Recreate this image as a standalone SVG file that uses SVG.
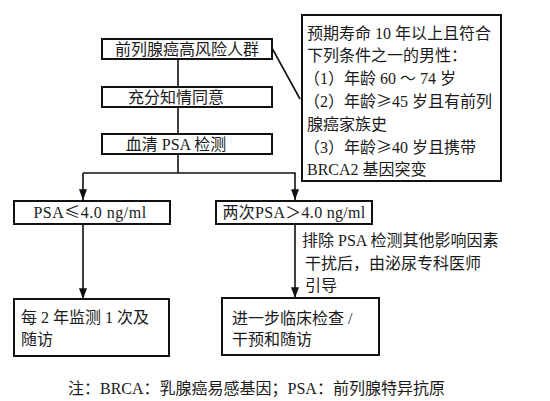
<svg xmlns="http://www.w3.org/2000/svg" width="550" height="401" viewBox="0 0 550 401">
<style>
text{font-family:"Liberation Serif","Noto Sans CJK SC",serif;font-size:16px;fill:#1a1a1a}
.k{font-family:"Noto Sans CJK SC",sans-serif}
.b{fill:#fff;stroke:#111;stroke-width:2}
.c{fill:none;stroke:#111;stroke-width:1.6}
.m{text-anchor:middle}
</style>
<defs>
<marker id="ah" viewBox="0 0 12 10" refX="12" refY="5" markerWidth="13" markerHeight="9" markerUnits="userSpaceOnUse" orient="auto">
<path d="M0,0.5 L12,5 L0,9.5 z" fill="#111"/>
</marker>
</defs>
<g id="connectors">
<line class="c" x1="178" y1="59" x2="178" y2="87"/>
<line class="c" x1="178" y1="107" x2="178" y2="133"/>
<line class="c" x1="178" y1="154" x2="178" y2="173"/>
<polyline class="c" points="83,173 295,173 295,200" marker-end="url(#ah)"/>
<line class="c" x1="83" y1="173" x2="83" y2="200" marker-end="url(#ah)"/>
<line class="c" x1="83" y1="225" x2="83" y2="299" marker-end="url(#ah)"/>
<line class="c" x1="295" y1="225" x2="295" y2="298" marker-end="url(#ah)"/>
<line class="c" x1="272" y1="48" x2="300" y2="99"/>
</g>
<g id="n1"><rect class="b" x="102" y="39" width="170" height="20"/><text class="m" x="187" y="55">前列腺癌高风险人群</text></g>
<g id="n2"><rect class="b" x="102" y="87" width="170" height="20"/><text class="m" x="176" y="103">充分知情同意</text></g>
<g id="n3"><rect class="b" x="102" y="134" width="170" height="20"/><text class="m" x="176" y="150">血清 PSA 检测</text></g>
<g id="note"><rect class="b" x="302" y="15" width="199" height="166"/>
<text x="307" y="39">预期寿命 10 年以上且符合</text>
<text x="307" y="61">下列条件之一的男性：</text>
<text x="304" y="84">（1）年龄 60 ～ 74 岁</text>
<text x="304" y="107">（2）年龄<tspan class="k">≥</tspan>45 岁且有前列</text>
<text x="307" y="130">腺癌家族史</text>
<text x="304" y="153">（3）年龄<tspan class="k">≥</tspan>40 岁且携带</text>
<text x="307" y="175">BRCA2 基因突变</text>
</g>
<g id="n4"><rect class="b" x="14" y="201" width="156" height="23"/><text class="m" x="90" y="218" letter-spacing="0.5">PSA<tspan class="k">≤</tspan>4.0 ng/ml</text></g>
<g id="n5"><rect class="b" x="216" y="201" width="156" height="23"/><text class="m" x="294" y="218" letter-spacing="0.3">两次PSA＞4.0 ng/ml</text></g>
<g id="lbl"><text x="302" y="246">排除 PSA 检测其他影响因素</text><text x="305" y="269">干扰后，由泌尿专科医师</text><text x="305" y="291">引导</text></g>
<g id="n6"><rect class="b" x="14" y="299" width="155" height="57"/><text x="21" y="323">每 2 年监测 1 次及</text><text x="21" y="345">随访</text></g>
<g id="n7"><rect class="b" x="222" y="298" width="157" height="57"/><text x="232" y="324">进一步临床检查 /</text><text x="232" y="345">干预和随访</text></g>
<text id="caption" x="68" y="394">注：BRCA：乳腺癌易感基因；PSA：前列腺特异抗原</text>
</svg>
